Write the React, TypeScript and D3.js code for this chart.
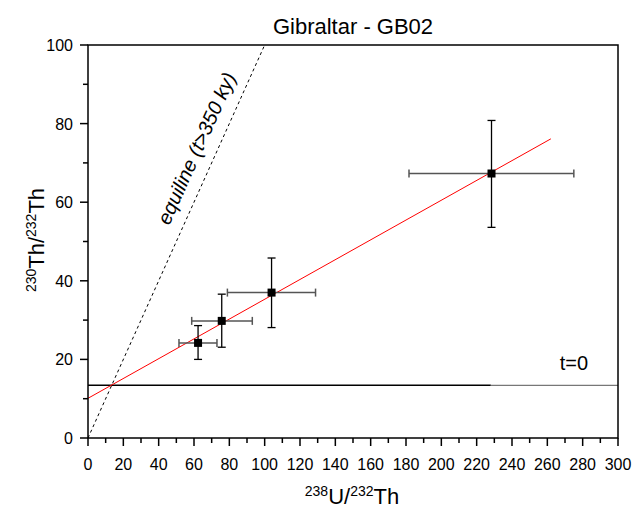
import React from "react";
import * as d3 from "d3";

// measured samples: 238U/232Th (x) and 230Th/232Th (y) with error bounds
const samples = ["GB02-a", "GB02-b", "GB02-c", "GB02-d"];
const uTh = [62.3, 75.7, 103.9, 228.4];
const uThLow = [51.5, 58.7, 78.9, 181.7];
const uThHigh = [73.0, 93.0, 128.8, 275.0];
const thTh = [24.2, 29.8, 37.0, 67.3];
const thThLow = [20.0, 23.1, 28.1, 53.6];
const thThHigh = [28.6, 36.6, 45.8, 80.8];

// isochron fit and reference lines
const isoIntercept = 10.1;
const isoSlope = 0.252;
const isoXEnd = 262;
const t0Value = 13.4;
const t0BlackEnd = 228;
const xTicks = d3.range(0, 301, 20);
const xMinor = d3.range(10, 300, 20);
const yTicks = d3.range(0, 101, 20);
const yMinor = d3.range(10, 100, 20);

const W = 633;
const H = 514;
const font = "'Liberation Sans', Arial, Helvetica, sans-serif";

export default function App() {
  const x = d3.scaleLinear().domain([0, 300]).range([88, 618]);
  const y = d3.scaleLinear().domain([0, 100]).range([438, 45]);

  const line = d3
    .line<[number, number]>()
    .x(d => x(d[0]))
    .y(d => y(d[1]));

  const iso: [number, number][] = [
    [0, isoIntercept],
    [isoXEnd, isoIntercept + isoSlope * isoXEnd],
  ];
  const equi: [number, number][] = [
    [0, 0],
    [100, 100],
  ];

  // angle of the equiline in screen space
  const ang = (Math.atan2(y(100) - y(0), x(100) - x(0)) * 180) / Math.PI;
  const labPos = [x(65), y(73)];

  const cap = 4;

  return (
    <svg
      width={W}
      height={H}
      style={{ position: "absolute", left: 0, top: 0, background: "#fff" }}
      fontFamily={font}
    >
      {/* title */}
      <text x={353} y={34} fontSize={22} textAnchor="middle">
        Gibraltar - GB02
      </text>

      {/* reference lines */}
      <path d={line(equi) ?? ""} stroke="#000" strokeWidth={1} strokeDasharray="3,3" fill="none" />
      <line x1={x(0)} x2={x(t0BlackEnd)} y1={y(t0Value)} y2={y(t0Value)} stroke="#000" strokeWidth={1.5} />
      <line x1={x(t0BlackEnd)} x2={x(300)} y1={y(t0Value)} y2={y(t0Value)} stroke="#777" strokeWidth={1.2} />
      <path d={line(iso) ?? ""} stroke="#ff0000" strokeWidth={1} fill="none" />

      {/* error bars and points */}
      {samples.map((s, i) => (
        <g key={s}>
          <g stroke="#555" strokeWidth={1.5}>
            <line x1={x(uThLow[i])} x2={x(uThHigh[i])} y1={y(thTh[i])} y2={y(thTh[i])} />
            <line x1={x(uThLow[i])} x2={x(uThLow[i])} y1={y(thTh[i]) - cap} y2={y(thTh[i]) + cap} />
            <line x1={x(uThHigh[i])} x2={x(uThHigh[i])} y1={y(thTh[i]) - cap} y2={y(thTh[i]) + cap} />
          </g>
          <g stroke="#000" strokeWidth={1.3}>
            <line x1={x(uTh[i])} x2={x(uTh[i])} y1={y(thThLow[i])} y2={y(thThHigh[i])} />
            <line x1={x(uTh[i]) - cap} x2={x(uTh[i]) + cap} y1={y(thThLow[i])} y2={y(thThLow[i])} />
            <line x1={x(uTh[i]) - cap} x2={x(uTh[i]) + cap} y1={y(thThHigh[i])} y2={y(thThHigh[i])} />
          </g>
          <rect x={x(uTh[i]) - 4} y={y(thTh[i]) - 4} width={8} height={8} fill="#000" />
        </g>
      ))}

      {/* frame */}
      <rect x={x(0)} y={y(100)} width={x(300) - x(0)} height={y(0) - y(100)} fill="none" stroke="#000" strokeWidth={1.5} />

      {/* x axis ticks */}
      {xTicks.map(t => (
        <g key={"x" + t}>
          <line x1={x(t)} x2={x(t)} y1={y(0)} y2={y(0) + 8} stroke="#000" strokeWidth={1.5} />
          <text x={x(t)} y={470} fontSize={16} textAnchor="middle">
            {t}
          </text>
        </g>
      ))}
      {xMinor.map(t => (
        <line key={"xm" + t} x1={x(t)} x2={x(t)} y1={y(0)} y2={y(0) + 5} stroke="#000" strokeWidth={1.5} />
      ))}

      {/* y axis ticks */}
      {yTicks.map(t => (
        <g key={"y" + t}>
          <line x1={x(0) - 8} x2={x(0)} y1={y(t)} y2={y(t)} stroke="#000" strokeWidth={1.5} />
          <text x={73} y={y(t) + 6} fontSize={16} textAnchor="end">
            {t}
          </text>
        </g>
      ))}
      {yMinor.map(t => (
        <line key={"ym" + t} x1={x(0) - 5} x2={x(0)} y1={y(t)} y2={y(t)} stroke="#000" strokeWidth={1.5} />
      ))}

      {/* axis titles */}
      <text x={352} y={504} fontSize={22} textAnchor="middle">
        <tspan fontSize={14} dy={-8}>238</tspan>
        <tspan dy={8}>U/</tspan>
        <tspan fontSize={14} dy={-8}>232</tspan>
        <tspan dy={8}>Th</tspan>
      </text>
      <text transform={`translate(44,240) rotate(-90)`} fontSize={22} textAnchor="middle">
        <tspan fontSize={14} dy={-8}>230</tspan>
        <tspan dy={8}>Th/</tspan>
        <tspan fontSize={14} dy={-8}>232</tspan>
        <tspan dy={8}>Th</tspan>
      </text>

      {/* annotations */}
      <text transform={`translate(${labPos[0]},${labPos[1]}) rotate(${ang})`} fontSize={20} fontStyle="italic" textAnchor="middle">
        equiline (t&gt;350 ky)
      </text>
      <text x={x(267)} y={y(t0Value) - 15} fontSize={20}>
        t=0
      </text>
    </svg>
  );
}
